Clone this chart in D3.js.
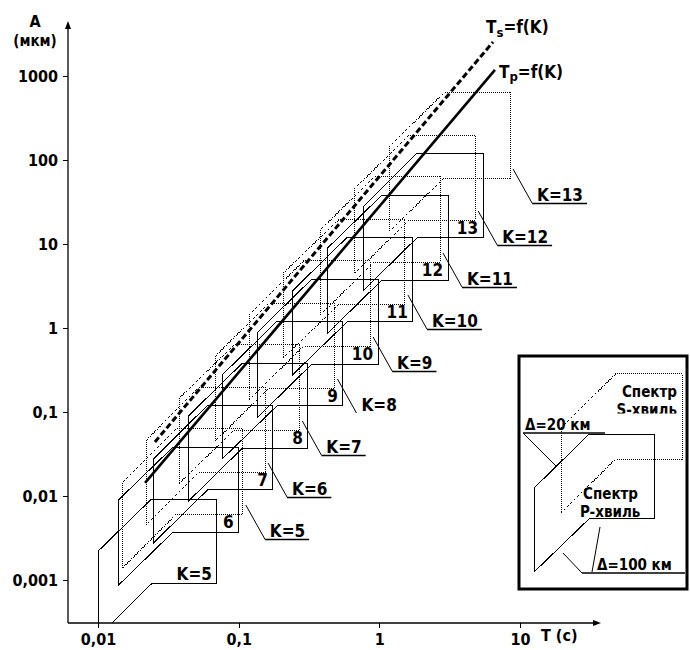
<!DOCTYPE html>
<html>
<head>
<meta charset="utf-8">
<script src="https://cdn.jsdelivr.net/npm/d3@7"></script>
<style>
  body { margin: 0; background: #fff; }
  text { font-family: "DejaVu Sans Condensed", "DejaVu Sans", sans-serif; font-weight: bold; fill: #000; }
</style>
</head>
<body>
<svg id="chart" width="690" height="650"></svg>
<script>
// Energy class K of each spectrum
const kValues = [5, 6, 7, 8, 9, 10, 11, 12, 13];

// P-wave spectra: period bounds T (s) and amplitude bounds A (µm)
// T1 left edge, T2 where the distance lines meet the top/bottom edges, T3 right edge
// A1/A3 low/high ends of the left edge, A2 bottom edge, A4 top edge
const pT1 = [0.01, 0.014, 0.025, 0.044, 0.077, 0.137, 0.243, 0.43, 0.77];
const pT2 = [0.024, 0.034, 0.06, 0.106, 0.187, 0.33, 0.59, 1.04, 1.85];
const pT3 = [0.07, 0.1, 0.175, 0.31, 0.55, 0.98, 1.73, 3.08, 5.46];
const pA1 = [0.00021, 0.00087, 0.0028, 0.0087, 0.028, 0.087, 0.28, 0.87, 2.8];
const pA2 = [0.0009, 0.0037, 0.0118, 0.037, 0.118, 0.37, 1.18, 3.7, 11.8];
const pA3 = [0.0022, 0.009, 0.028, 0.09, 0.28, 0.9, 2.8, 9, 28];
const pA4 = [0.0092, 0.038, 0.12, 0.38, 1.2, 3.8, 12, 38, 120];

// S-wave spectra, same layout
const sT1 = [0.015, 0.022, 0.038, 0.068, 0.12, 0.21, 0.38, 0.67, 1.19];
const sT2 = [0.036, 0.052, 0.093, 0.164, 0.29, 0.52, 0.92, 1.63, 2.88];
const sT3 = [0.107, 0.154, 0.27, 0.48, 0.86, 1.52, 2.7, 4.8, 8.5];
const sA1 = [0.0014, 0.0045, 0.0143, 0.045, 0.143, 0.45, 1.43, 4.5, 14.3];
const sA2 = [0.0061, 0.0193, 0.061, 0.193, 0.61, 1.93, 6.1, 19.3, 61];
const sA3 = [0.0147, 0.046, 0.147, 0.46, 1.47, 4.6, 14.7, 46, 147];
const sA4 = [0.063, 0.198, 0.63, 1.98, 6.3, 19.8, 63, 198, 630];

// Dominant period vs amplitude lines
const tpLineT = [0.0216, 6.64];
const tpLineA = [0.0143, 1180];
const tsLineT = [0.0254, 6.43];
const tsLineA = [0.044, 2540];

// Labels
const pLabels = ["K=5", "6", "7", "8", "9", "10", "11", "12", "13"];
const sLabels = ["K=5", "K=6", "K=7", "K=8", "K=9", "K=10", "K=11", "K=12", "K=13"];
const xTicks = [0.01, 0.1, 1, 10];
const xTickLabels = ["0,01", "0,1", "1", "10"];
const yTicks = [0.001, 0.01, 0.1, 1, 10, 100, 1000];
const yTickLabels = ["0,001", "0,01", "0,1", "1", "10", "100", "1000"];

const svg = d3.select("#chart");
const x = d3.scaleLog().domain([0.01, 10]).range([98, 520]);
const y = d3.scaleLog().domain([0.001, 1000]).range([580, 76]);
const axisX = 68, axisY = 623;

const defs = svg.append("defs");
defs.append("clipPath").attr("id", "plotClip")
  .append("rect").attr("x", axisX).attr("y", 0).attr("width", 690 - axisX).attr("height", axisY);

function hexPoints(t1, t2, t3, a1, a2, a3, a4) {
  return [[x(t1), y(a1)], [x(t1), y(a3)], [x(t2), y(a4)], [x(t3), y(a4)], [x(t3), y(a2)], [x(t2), y(a2)]];
}
const lineGen = d3.line();
const hexPath = pts => lineGen(pts) + "Z";

const pShapes = kValues.map((k, i) => hexPoints(pT1[i], pT2[i], pT3[i], pA1[i], pA2[i], pA3[i], pA4[i]));
const sShapes = kValues.map((k, i) => hexPoints(sT1[i], sT2[i], sT3[i], sA1[i], sA2[i], sA3[i], sA4[i]));

const plot = svg.append("g").attr("clip-path", "url(#plotClip)");

// S-wave spectra (dotted)
plot.selectAll("path.s").data(sShapes).join("path")
  .attr("class", "s").attr("d", hexPath)
  .attr("fill", "none").attr("stroke", "#000").attr("stroke-width", 1)
  .attr("stroke-dasharray", "1,1").attr("shape-rendering", "crispEdges");

// P-wave spectra (solid)
plot.selectAll("path.p").data(pShapes).join("path")
  .attr("class", "p").attr("d", hexPath)
  .attr("fill", "none").attr("stroke", "#000").attr("stroke-width", 1)
  .attr("shape-rendering", "crispEdges");

// Ts = f(K) dashed, Tp = f(K) thick
plot.append("path")
  .attr("d", lineGen(tsLineT.map((t, i) => [x(t), y(tsLineA[i])])))
  .attr("fill", "none").attr("stroke", "#000").attr("stroke-width", 3)
  .attr("stroke-dasharray", "6,3");
plot.append("path")
  .attr("d", lineGen(tpLineT.map((t, i) => [x(t), y(tpLineA[i])])))
  .attr("fill", "none").attr("stroke", "#000").attr("stroke-width", 2.6);

// Class numbers inside the P spectra
svg.selectAll("text.plab").data(pLabels).join("text")
  .attr("class", "plab")
  .attr("x", (d, i) => x(pT3[i]) - 5)
  .attr("y", (d, i) => y(pA2[i]) - 4)
  .attr("text-anchor", "end").attr("font-size", 17)
  .text(d => d);

// Leader labels for the S spectra
const sLab = svg.append("g");
kValues.forEach((k, i) => {
  const cx = x(sT3[i]), cy = y(sA2[i]);
  const ex = cx + 22, ey = cy + 25;
  sLab.append("line").attr("x1", cx + 3).attr("y1", cy - 9).attr("x2", ex).attr("y2", ey)
    .attr("stroke", "#000").attr("stroke-width", 1);
  const t = sLab.append("text").attr("x", ex + 5).attr("y", ey - 2).attr("font-size", 17).text(sLabels[i]);
  if (k !== 8) {
    const w = t.node().getComputedTextLength();
    sLab.append("line").attr("x1", ex).attr("y1", ey + 0.5).attr("x2", ex + 5 + w + 4).attr("y2", ey + 0.5)
      .attr("stroke", "#000").attr("stroke-width", 1.5);
  }
});

// Line labels
const tsLab = svg.append("text").attr("x", 486).attr("y", 33).attr("font-size", 17);
tsLab.append("tspan").text("T");
tsLab.append("tspan").attr("font-size", 13).attr("dy", 4).text("s");
tsLab.append("tspan").attr("dy", -4).text("=f(K)");
const tpLab = svg.append("text").attr("x", 499).attr("y", 78).attr("font-size", 17);
tpLab.append("tspan").text("T");
tpLab.append("tspan").attr("font-size", 13).attr("dy", 3).text("p");
tpLab.append("tspan").attr("dy", -3).text("=f(K)");

// Axes
const yAxis = d3.axisLeft(y).tickValues(yTicks).tickFormat((d, i) => yTickLabels[i]).tickSize(5).tickPadding(5);
const gy = svg.append("g").attr("transform", `translate(${axisX},0)`).call(yAxis);
const xAxis = d3.axisBottom(x).tickValues(xTicks).tickFormat((d, i) => xTickLabels[i]).tickSize(5).tickPadding(6);
const gx = svg.append("g").attr("transform", `translate(0,${axisY})`).call(xAxis);
[gx, gy].forEach(g => {
  g.select(".domain").remove();
  g.selectAll(".tick line").attr("stroke", "#000").attr("shape-rendering", "crispEdges");
  g.selectAll(".tick text").attr("font-size", 16).attr("font-family", null).attr("fill", "#000");
});
svg.append("line").attr("x1", axisX).attr("y1", axisY).attr("x2", axisX).attr("y2", 24)
  .attr("stroke", "#000").attr("stroke-width", 1.3);
svg.append("path").attr("d", `M${axisX},21 L${axisX - 3},29 L${axisX + 3},29 Z`).attr("fill", "#000");
svg.append("line").attr("x1", axisX).attr("y1", axisY).attr("x2", 598).attr("y2", axisY)
  .attr("stroke", "#000").attr("stroke-width", 1.3);
svg.append("path").attr("d", `M601,${axisY} L593,${axisY - 3} L593,${axisY + 3} Z`).attr("fill", "#000");

svg.append("text").attr("x", 35).attr("y", 27).attr("text-anchor", "middle").attr("font-size", 16).text("A");
svg.append("text").attr("x", 35).attr("y", 46).attr("text-anchor", "middle").attr("font-size", 15).text("(мкм)");
svg.append("text").attr("x", 541).attr("y", 641).attr("font-size", 16).text("T (с)");

// Legend: the K=9 pair drawn as a sample
const leg = svg.append("g");
leg.append("rect").attr("x", 519).attr("y", 356).attr("width", 168).attr("height", 233)
  .attr("fill", "#fff").attr("stroke", "#000").attr("stroke-width", 3);
const legShift = "translate(312,113)";
leg.append("path").attr("d", hexPath(sShapes[4])).attr("transform", legShift)
  .attr("fill", "none").attr("stroke", "#000").attr("stroke-dasharray", "1,1").attr("shape-rendering", "crispEdges");
leg.append("path").attr("d", hexPath(pShapes[4])).attr("transform", legShift)
  .attr("fill", "none").attr("stroke", "#000").attr("shape-rendering", "crispEdges");

defs.append("clipPath").attr("id", "legClip")
  .append("rect").attr("x", 519).attr("y", 356).attr("width", 168).attr("height", 57.5);
leg.append("text").attr("x", 677).attr("y", 397).attr("text-anchor", "end").attr("font-size", 15).text("Спектр");
leg.append("text").attr("x", 677).attr("y", 415).attr("text-anchor", "end").attr("font-size", 15)
  .attr("clip-path", "url(#legClip)").text("S-хвиль");
leg.append("text").attr("x", 583).attr("y", 499).attr("font-size", 15).text("Спектр");
leg.append("text").attr("x", 580).attr("y", 517).attr("font-size", 15).text("P-хвиль");

leg.append("text").attr("x", 525).attr("y", 430).attr("font-size", 15).text("Δ=20 км");
leg.append("line").attr("x1", 523).attr("y1", 433).attr("x2", 605).attr("y2", 433).attr("stroke", "#000").attr("stroke-width", 1.5);
leg.append("line").attr("x1", 523).attr("y1", 433).attr("x2", 557).attr("y2", 467).attr("stroke", "#000");
leg.append("text").attr("x", 597).attr("y", 570).attr("font-size", 15).text("Δ=100 км");
leg.append("line").attr("x1", 582).attr("y1", 573).attr("x2", 685).attr("y2", 573).attr("stroke", "#000").attr("stroke-width", 1.5);
leg.append("line").attr("x1", 582).attr("y1", 573).attr("x2", 563).attr("y2", 553).attr("stroke", "#000");
leg.append("line").attr("x1", 592).attr("y1", 572).attr("x2", 600).attr("y2", 527).attr("stroke", "#000");
</script>
</body>
</html>
